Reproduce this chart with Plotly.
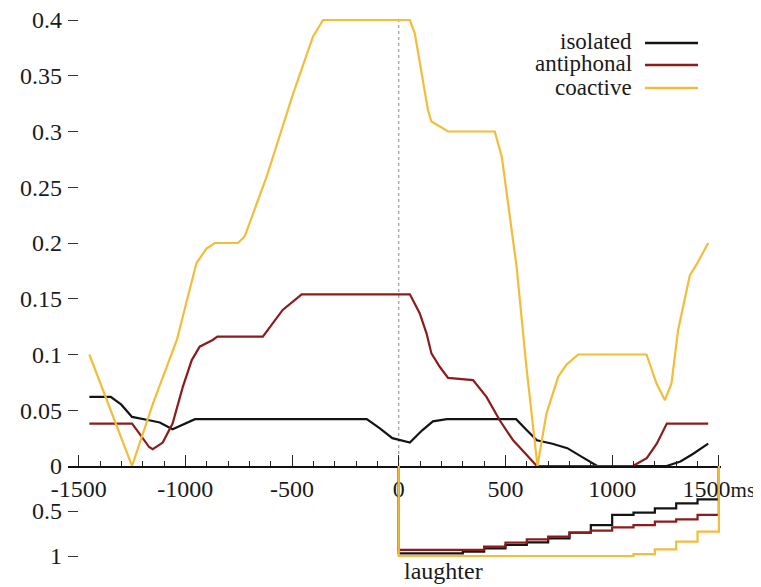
import plotly.graph_objects as go

# ---------------- data (upper panel) ----------------
time_isolated = [-1450, -1350, -1300, -1250, -1170, -1120, -1060, -1000, -955, -150, -90, -30, 52,
                 110, 160, 225, 550, 600, 647, 720, 790, 860, 930, 1255, 1320, 1380, 1450]
isolated = [0.062, 0.062, 0.055, 0.044, 0.041, 0.039, 0.033, 0.038, 0.042, 0.042, 0.034, 0.025, 0.021,
            0.032, 0.040, 0.042, 0.042, 0.032, 0.023, 0.020, 0.016, 0.008, 0.0, 0.0, 0.004, 0.011, 0.020]

time_antiphonal = [-1450, -1250, -1215, -1170, -1153, -1106, -1060, -1012, -970, -933, -872, -850, -637,
                   -590, -544, -455, 52, 98, 130, 153, 192, 231, 348, 411, 473, 536, 598, 647,
                   1097, 1162, 1209, 1256, 1450]
antiphonal = [0.038, 0.038, 0.029, 0.017, 0.015, 0.021, 0.038, 0.071, 0.095, 0.107, 0.113, 0.116, 0.116,
              0.128, 0.140, 0.154, 0.154, 0.137, 0.119, 0.101, 0.089, 0.079, 0.077, 0.062, 0.041, 0.023, 0.010, 0.0,
              0.0, 0.007, 0.020, 0.038, 0.038]

time_coactive = [-1450, -1250, -1152, -1040, -988, -948, -901, -862, -753, -722, -620, -495, -402, -355,
                 52, 75, 137, 153, 231, 450, 483, 552, 598, 650, 692, 747, 786, 841, 1161, 1208, 1247,
                 1278, 1309, 1364, 1402, 1450]
coactive = [0.100, 0.0, 0.056, 0.113, 0.152, 0.182, 0.195, 0.200, 0.200, 0.206, 0.259, 0.334, 0.385, 0.400,
            0.400, 0.388, 0.319, 0.309, 0.300, 0.300, 0.277, 0.179, 0.089, 0.0, 0.047, 0.080, 0.091, 0.100,
            0.100, 0.074, 0.059, 0.074, 0.122, 0.171, 0.183, 0.200]

# ---------------- data (lower panel: laughter steps) ----------------
laugh_bins = [0, 100, 200, 300, 400, 500, 600, 700, 800, 900, 1000, 1100, 1200, 1300, 1400]
laugh_end = 1500
laugh_isolated = [0.97, 0.97, 0.97, 0.952, 0.915, 0.878, 0.848, 0.804, 0.741, 0.656, 0.544, 0.519, 0.47, 0.415, 0.37]
laugh_antiphonal = [0.933, 0.933, 0.933, 0.933, 0.896, 0.852, 0.815, 0.785, 0.741, 0.719, 0.681, 0.656, 0.619, 0.593, 0.544]
laugh_coactive = [1.0, 1.0, 1.0, 1.0, 1.0, 1.0, 1.0, 1.0, 1.0, 1.0, 1.0, 0.98, 0.926, 0.841, 0.73]

series_names = ["isolated", "antiphonal", "coactive"]
colors = {"isolated": "#141414", "antiphonal": "#8c1c1c", "coactive": "#f2bd3a"}

x_ticks = [-1500, -1000, -500, 0, 500, 1000, 1500]
x_ticktext = ["-1500", "-1000", "-500", "0", "500", "1000", "1500<span style='font-size:21px'>ms</span>"]
y_ticks = [0, 0.05, 0.1, 0.15, 0.2, 0.25, 0.3, 0.35, 0.4]
y_ticktext = ["0", "0.05", "0.1", "0.15", "0.2", "0.25", "0.3", "0.35", "0.4"]
y2_ticks = [0.5, 1]
y2_ticktext = ["0.5", "1"]

FONT = "Liberation Serif, Times New Roman, serif"
TXT = "#1a1a1a"

fig = go.Figure()

upper = {"isolated": (time_isolated, isolated),
         "antiphonal": (time_antiphonal, antiphonal),
         "coactive": (time_coactive, coactive)}
for name in series_names:
    xs, ys = upper[name]
    fig.add_trace(go.Scatter(x=xs, y=ys, mode="lines", name=name,
                             line=dict(color=colors[name], width=2.2),
                             xaxis="x", yaxis="y", showlegend=False))

lower = {"isolated": laugh_isolated, "antiphonal": laugh_antiphonal, "coactive": laugh_coactive}
for name in series_names:
    vals = lower[name]
    xs = [0] + laugh_bins + [laugh_end, laugh_end]
    ys = [0] + vals + [vals[-1], 0]
    fig.add_trace(go.Scatter(x=xs, y=ys, mode="lines", line_shape="hv",
                             line=dict(color=colors[name], width=2.2),
                             xaxis="x", yaxis="y2", showlegend=False))

# layout geometry (page body adds an 8px offset, so the figure is 8px smaller)
OFF = 8
W, H = 761 - OFF, 587 - OFF
L = 68 - OFF
R = W - (721 - OFF)
T = 10
B = 5
ph = H - T - B
pw = W - L - R
zero_px = 466 - OFF
dom_split = (H - B - zero_px) / ph
y_top = 0.4 + ((20 - OFF) - T) / 1115.0
y2_bottom = (H - B - zero_px) / 90.0

fig.update_layout(
    width=W, height=H,
    margin=dict(l=L, r=R, t=T, b=B, autoexpand=False),
    paper_bgcolor="white", plot_bgcolor="white",
    font=dict(family=FONT, size=24, color=TXT),
    showlegend=False,
    xaxis=dict(domain=[0, 1], range=[-1550, 1510], anchor="y",
               tickmode="array", tickvals=x_ticks, ticktext=x_ticktext,
               ticks="inside", ticklen=11, tickwidth=1.2, tickcolor="#222",
               minor=dict(tickmode="linear", tick0=-1500, dtick=100, ticks="inside",
                          ticklen=5, tickwidth=1.2, tickcolor="#222"),
               showline=True, linecolor="#111", linewidth=1.6,
               showgrid=False, zeroline=False, ticklabelstandoff=0,
               ticklabeloverflow="allow",
               tickfont=dict(family=FONT, size=24, color=TXT)),
    yaxis=dict(domain=[dom_split, 1], range=[0, y_top], anchor="x",
               tickmode="array", tickvals=y_ticks, ticktext=y_ticktext,
               ticks="inside", ticklen=10, tickwidth=1.2, tickcolor="#333",
               showline=False, showgrid=False, zeroline=False, ticklabelstandoff=5,
               ticklabeloverflow="allow",
               tickfont=dict(family=FONT, size=24, color=TXT)),
    yaxis2=dict(domain=[0, dom_split], range=[y2_bottom, 0], anchor="x",
                tickmode="array", tickvals=y2_ticks, ticktext=y2_ticktext,
                ticks="inside", ticklen=10, tickwidth=1.2, tickcolor="#333",
                showline=False, showgrid=False, zeroline=False, ticklabelstandoff=5,
                ticklabeloverflow="allow",
                tickfont=dict(family=FONT, size=24, color=TXT)),
)

# dotted vertical marker at laughter onset
fig.add_shape(type="line", xref="x", yref="y", x0=0, x1=0, y0=0, y1=0.4,
              line=dict(color="#888888", width=1, dash="dot"), layer="below")

# legend (text right-aligned, sample line to the right); positions in reference pixels
def px_x(p):
    return (p - OFF - L) / pw

def px_y(p):
    return (H - B - (p - OFF)) / ph

legend_rows = [43, 65, 88]
for name, ry in zip(series_names, legend_rows):
    fig.add_annotation(xref="paper", yref="paper", x=px_x(634), y=px_y(ry - 1),
                       text=name, showarrow=False, xanchor="right", yanchor="middle",
                       font=dict(family=FONT, size=23, color=TXT))
    fig.add_shape(type="line", xref="paper", yref="paper",
                  x0=px_x(645), x1=px_x(698), y0=px_y(ry), y1=px_y(ry),
                  line=dict(color=colors[name], width=2.4))

fig.add_annotation(xref="x", yref="y2", x=0, y=1.17, text="laughter", showarrow=False,
                   xanchor="left", yanchor="middle", xshift=3,
                   font=dict(family=FONT, size=24, color=TXT))

fig.write_html("out.html")
